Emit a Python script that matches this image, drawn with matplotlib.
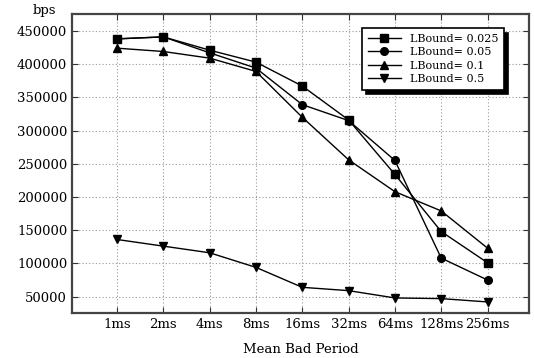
import matplotlib.pyplot as plt

periods = ['1ms', '2ms', '4ms', '8ms', '16ms', '32ms', '64ms', '128ms', '256ms']
lb_0025 = [438000, 441000, 421000, 403000, 367000, 316000, 234000, 148000, 101000]
lb_005 = [438000, 441000, 417000, 394000, 339000, 315000, 255000, 108000, 75000]
lb_01 = [424000, 419000, 409000, 389000, 320000, 256000, 208000, 179000, 123000]
lb_05 = [136000, 126000, 116000, 94000, 64000, 59000, 48000, 47000, 42000]

plt.rcParams['font.family'] = ['DejaVu Serif']

fig = plt.figure(figsize=(5.34, 3.58), dpi=100)
ax = fig.add_axes([0.135, 0.126, 0.856, 0.835])

x = list(range(1, len(periods) + 1))
ax.plot(x, lb_0025, color='k', lw=1, marker='s', ms=5.5, label='LBound= 0.025')
ax.plot(x, lb_005, color='k', lw=1, marker='o', ms=5.5, label='LBound= 0.05')
ax.plot(x, lb_01, color='k', lw=1, marker='^', ms=5.5, label='LBound= 0.1')
ax.plot(x, lb_05, color='k', lw=1, marker='v', ms=5.5, label='LBound= 0.5')

ax.set_xlim(0.03, 9.9)
ax.set_ylim(25500, 475500)
ax.set_xticks(x)
ax.set_xticklabels(periods, fontsize=9.5)
ax.set_yticks(range(50000, 450001, 50000))
ax.tick_params(axis='y', labelsize=9.5)
ax.tick_params(direction='in', top=True, right=True, length=4, color='#333333')
ax.grid(True, linestyle=(0, (1, 2)), color='#999999', lw=0.8)
for s in ax.spines.values():
    s.set_linewidth(1.6)
    s.set_color('#444444')

ax.set_xlabel('Mean Bad Period', fontsize=9.5, labelpad=9)
ax.text(-0.06, 1.01, 'bps', transform=ax.transAxes, fontsize=9.5,
        ha='center', va='center')

leg = ax.legend(loc='upper right', bbox_to_anchor=(0.957, 0.97), fontsize=8,
                fancybox=False, edgecolor='k', framealpha=1,
                shadow={'ox': 3, 'oy': -3, 'color': 'k', 'alpha': 1},
                handlelength=3, labelspacing=0.3, borderpad=0.5)
leg.get_frame().set_linewidth(1.2)

fig.savefig('out.png', dpi=100)
